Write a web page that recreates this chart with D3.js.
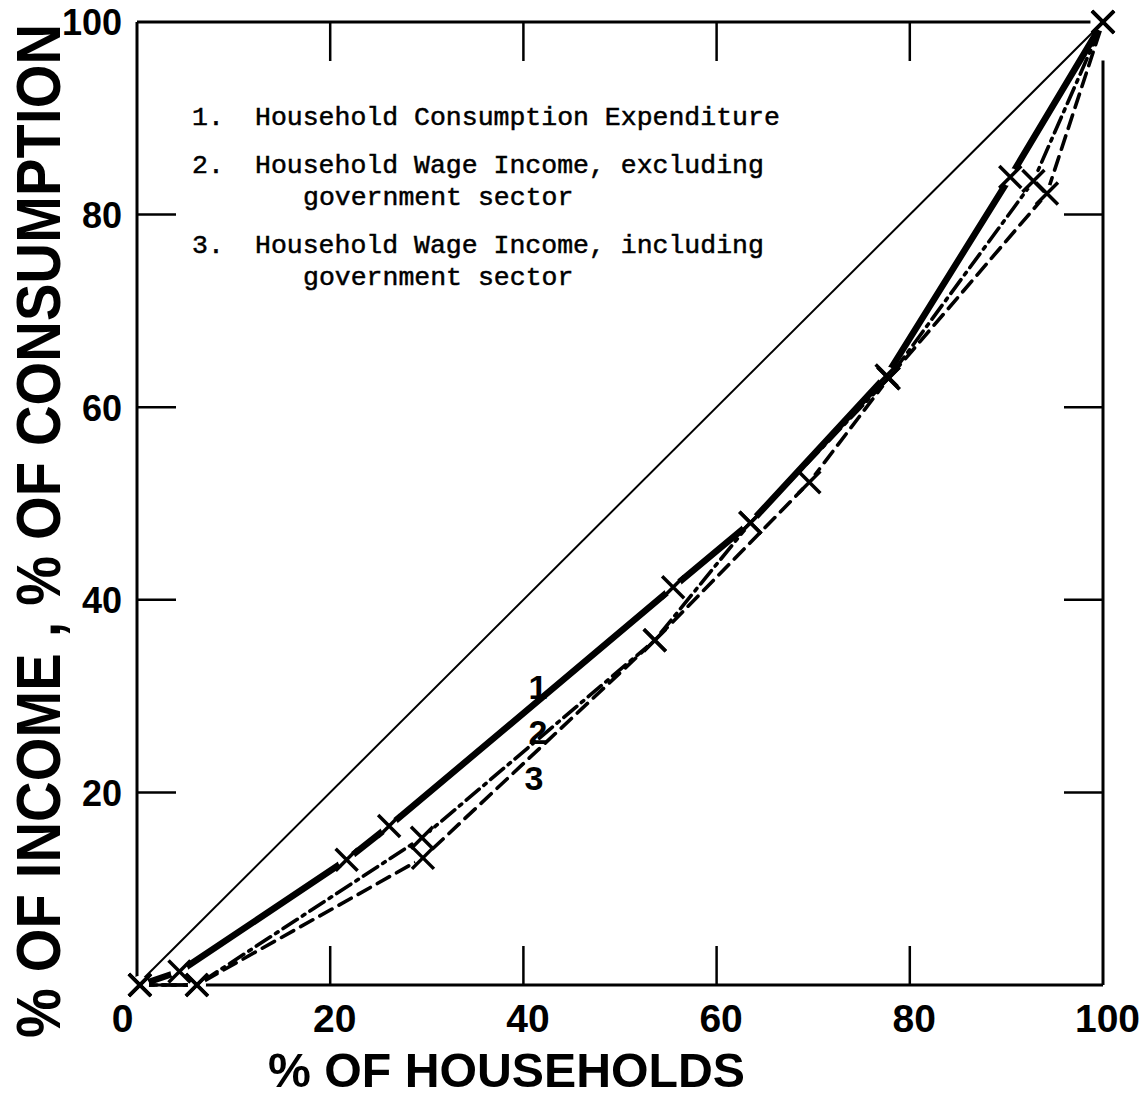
<!DOCTYPE html>
<html>
<head>
	<title>Lorenz curves - households</title>
	<meta charset="utf-8">
	<script src="https://cdnjs.cloudflare.com/ajax/libs/d3/7.8.5/d3.min.js"></script>
	<style>
		body { margin: 0; background: #fff; }
		svg { display: block; }
		.legendText { font-family: "Liberation Mono", "DejaVu Sans Mono", monospace; font-size: 26.5px; }
	</style>
</head>
<body>
<div id="chart"></div>

<script>
// ---------- data ----------
// series 1: household consumption expenditure (heavy solid)
var hh1  = [0.3, 4.4, 21.7, 26.1, 55.5, 63.5, 77.6, 90.4, 100];
var val1 = [0,   1.4, 13.0, 16.5, 41.3, 48.0, 63.3, 83.9, 100];
// series 2: wage income excluding government sector (dash-dot)
var hh2  = [0.3, 6.2, 29.5, 53.6, 63.5, 77.8, 92.8, 100];
var val2 = [0,   0,   15.3, 35.8, 48.0, 63.0, 83.5, 100];
// series 3: wage income including government sector (dashed)
var hh3  = [0.3, 6.2, 29.6, 53.6, 69.6, 77.8, 94.2, 100];
var val3 = [0,   0,   13.2, 35.8, 52.2, 63.0, 82.2, 100];

var ticks = [0, 20, 40, 60, 80, 100];
var legendNums  = ["1.", "2.", "3."];
var legendLines = [
	["Household Consumption Expenditure"],
	["Household Wage Income, excluding", "government sector"],
	["Household Wage Income, including", "government sector"]
];
var curveTags = ["1", "2", "3"];

// ---------- setup ----------
var width = 1146,
	height = 1096;

var svg = d3.select("#chart")
			.append("svg")
			.attr("width", width)
			.attr("height", height);

var x = d3.scaleLinear().domain([0, 100]).range([137, 1103]);
var y = d3.scaleLinear().domain([0, 100]).range([985, 22]);

// frame (hand drawn: top and right lines leave a gap at the corner)
var frame = svg.append("g").attr("stroke", "#000").attr("stroke-width", 3).attr("fill", "none");
frame.append("line").attr("x1", x(0)).attr("x2", x(0)).attr("y1", y(100)).attr("y2", y(0));
frame.append("line").attr("x1", x(0)).attr("x2", x(100)).attr("y1", y(0)).attr("y2", y(0));
frame.append("line").attr("x1", x(0)).attr("x2", x(98.7)).attr("y1", y(100)).attr("y2", y(100));
frame.append("line").attr("x1", x(100)).attr("x2", x(100)).attr("y1", y(96)).attr("y2", y(0));

// inward ticks on all four sides
var inner = ticks.filter(function(d) { return d > 0 && d < 100; });
var tickLen = 39;
var tk = svg.append("g").attr("stroke", "#000").attr("stroke-width", 2.5);
inner.forEach(function(t) {
	tk.append("line").attr("x1", x(t)).attr("x2", x(t)).attr("y1", y(0)).attr("y2", y(0) - tickLen);
	tk.append("line").attr("x1", x(t)).attr("x2", x(t)).attr("y1", y(100)).attr("y2", y(100) + tickLen);
	tk.append("line").attr("y1", y(t)).attr("y2", y(t)).attr("x1", x(0)).attr("x2", x(0) + tickLen);
	tk.append("line").attr("y1", y(t)).attr("y2", y(t)).attr("x1", x(100)).attr("x2", x(100) - tickLen);
});

// axes labels via d3 axes (domain and tick lines hidden, labels only)
var xAxis = svg.append("g")
	.attr("transform", "translate(0," + y(0) + ")")
	.call(d3.axisBottom(x).tickValues(ticks).tickSize(0).tickPadding(0).tickFormat(d3.format("d")));
xAxis.select(".domain").remove();
xAxis.selectAll("text")
	.attr("dy", null)
	.attr("y", 47)
	.attr("x", function(d) { return d === 0 ? -15 : 4; })
	.style("font-family", "'Liberation Sans Narrow', 'Liberation Sans', Arial, sans-serif")
	.style("font-weight", "bold")
	.style("font-size", "39px")
	.attr("fill", "#000");

var yAxis = svg.append("g")
	.attr("transform", "translate(" + x(0) + ",0)")
	.call(d3.axisLeft(y).tickValues(ticks.filter(function(d) { return d > 0; }))
		.tickSize(0).tickPadding(15).tickFormat(d3.format("d")));
yAxis.select(".domain").remove();
yAxis.selectAll("text")
	.attr("dy", "0.36em")
	.style("font-family", "'Liberation Sans', Arial, sans-serif")
	.style("font-weight", "bold")
	.style("font-size", "36px")
	.attr("fill", "#000");

// axis titles
svg.append("text")
	.attr("x", 268).attr("y", 1087)
	.attr("textLength", 477).attr("lengthAdjust", "spacingAndGlyphs")
	.style("font-family", "'Liberation Sans', Arial, sans-serif")
	.style("font-weight", "bold").style("font-size", "49px")
	.text("% OF HOUSEHOLDS");

svg.append("text")
	.attr("transform", "translate(60,1038) rotate(-90) scale(1,1.12)")
	.attr("textLength", 1014).attr("lengthAdjust", "spacing")
	.style("font-family", "'Liberation Sans', Arial, sans-serif")
	.style("font-weight", "bold").style("font-size", "56px")
	.text("% OF INCOME , % OF CONSUMPTION");

// equality diagonal
svg.append("line")
	.attr("x1", x(0)).attr("y1", y(0)).attr("x2", x(100)).attr("y2", y(100))
	.attr("stroke", "#000").attr("stroke-width", 2);

// curves
var series = [
	{ xs: hh1, ys: val1, w: 6.5, dash: null },
	{ xs: hh2, ys: val2, w: 3.6, dash: "17 6 3 6" },
	{ xs: hh3, ys: val3, w: 3.6, dash: "14 8" }
];

var line = d3.line()
	.x(function(d) { return x(d[0]); })
	.y(function(d) { return y(d[1]); });

series.forEach(function(s) {
	var pts = d3.zip(s.xs, s.ys);
	svg.append("path")
		.datum(pts)
		.attr("d", line)
		.attr("fill", "none")
		.attr("stroke", "#000")
		.attr("stroke-width", s.w)
		.attr("stroke-linecap", "round")
		.attr("stroke-linejoin", "round")
		.attr("stroke-dasharray", s.dash);
});

// small white gaps around the plotted points, then the x marks
var allPts = [];
series.forEach(function(s) { allPts = allPts.concat(d3.zip(s.xs, s.ys)); });

svg.append("g").selectAll("circle")
	.data(allPts)
	.enter().append("circle")
	.attr("cx", function(d) { return x(d[0]); })
	.attr("cy", function(d) { return y(d[1]); })
	.attr("r", 9)
	.attr("fill", "#fff");

var m = 11;
svg.append("g").selectAll("path")
	.data(allPts)
	.enter().append("path")
	.attr("d", function(d) {
		var cx = x(d[0]), cy = y(d[1]);
		return "M" + (cx - m) + "," + (cy - m) + "L" + (cx + m) + "," + (cy + m) +
			"M" + (cx - m) + "," + (cy + m) + "L" + (cx + m) + "," + (cy - m);
	})
	.attr("stroke", "#000")
	.attr("stroke-width", 3.5)
	.attr("fill", "none");

// curve tags 1, 2, 3
var tagPos = [[41.5, 29.7], [41.5, 25.0], [41.1, 20.2]];
svg.append("g").selectAll("text")
	.data(curveTags)
	.enter().append("text")
	.attr("x", function(d, i) { return x(tagPos[i][0]); })
	.attr("y", function(d, i) { return y(tagPos[i][1]); })
	.attr("text-anchor", "middle")
	.style("font-family", "'Liberation Sans', Arial, sans-serif")
	.style("font-weight", "bold").style("font-size", "34px")
	.text(function(d) { return d; });

// legend block (typewriter text)
var lg = svg.append("g").attr("class", "legendText");
var rowY = [125, 173, 253];
legendLines.forEach(function(lines, i) {
	lg.append("text")
		.attr("x", 192).attr("y", rowY[i])
		.attr("stroke", "#000").attr("stroke-width", 0.5)
		.text(legendNums[i]);
	lg.append("text")
		.attr("x", 255).attr("y", rowY[i])
		.attr("stroke", "#000").attr("stroke-width", 0.5)
		.text(lines[0]);
	if (lines[1]) {
		lg.append("text")
			.attr("x", 303).attr("y", rowY[i] + 32)
			.attr("stroke", "#000").attr("stroke-width", 0.5)
			.text(lines[1]);
	}
});
</script>
</body>
</html>
